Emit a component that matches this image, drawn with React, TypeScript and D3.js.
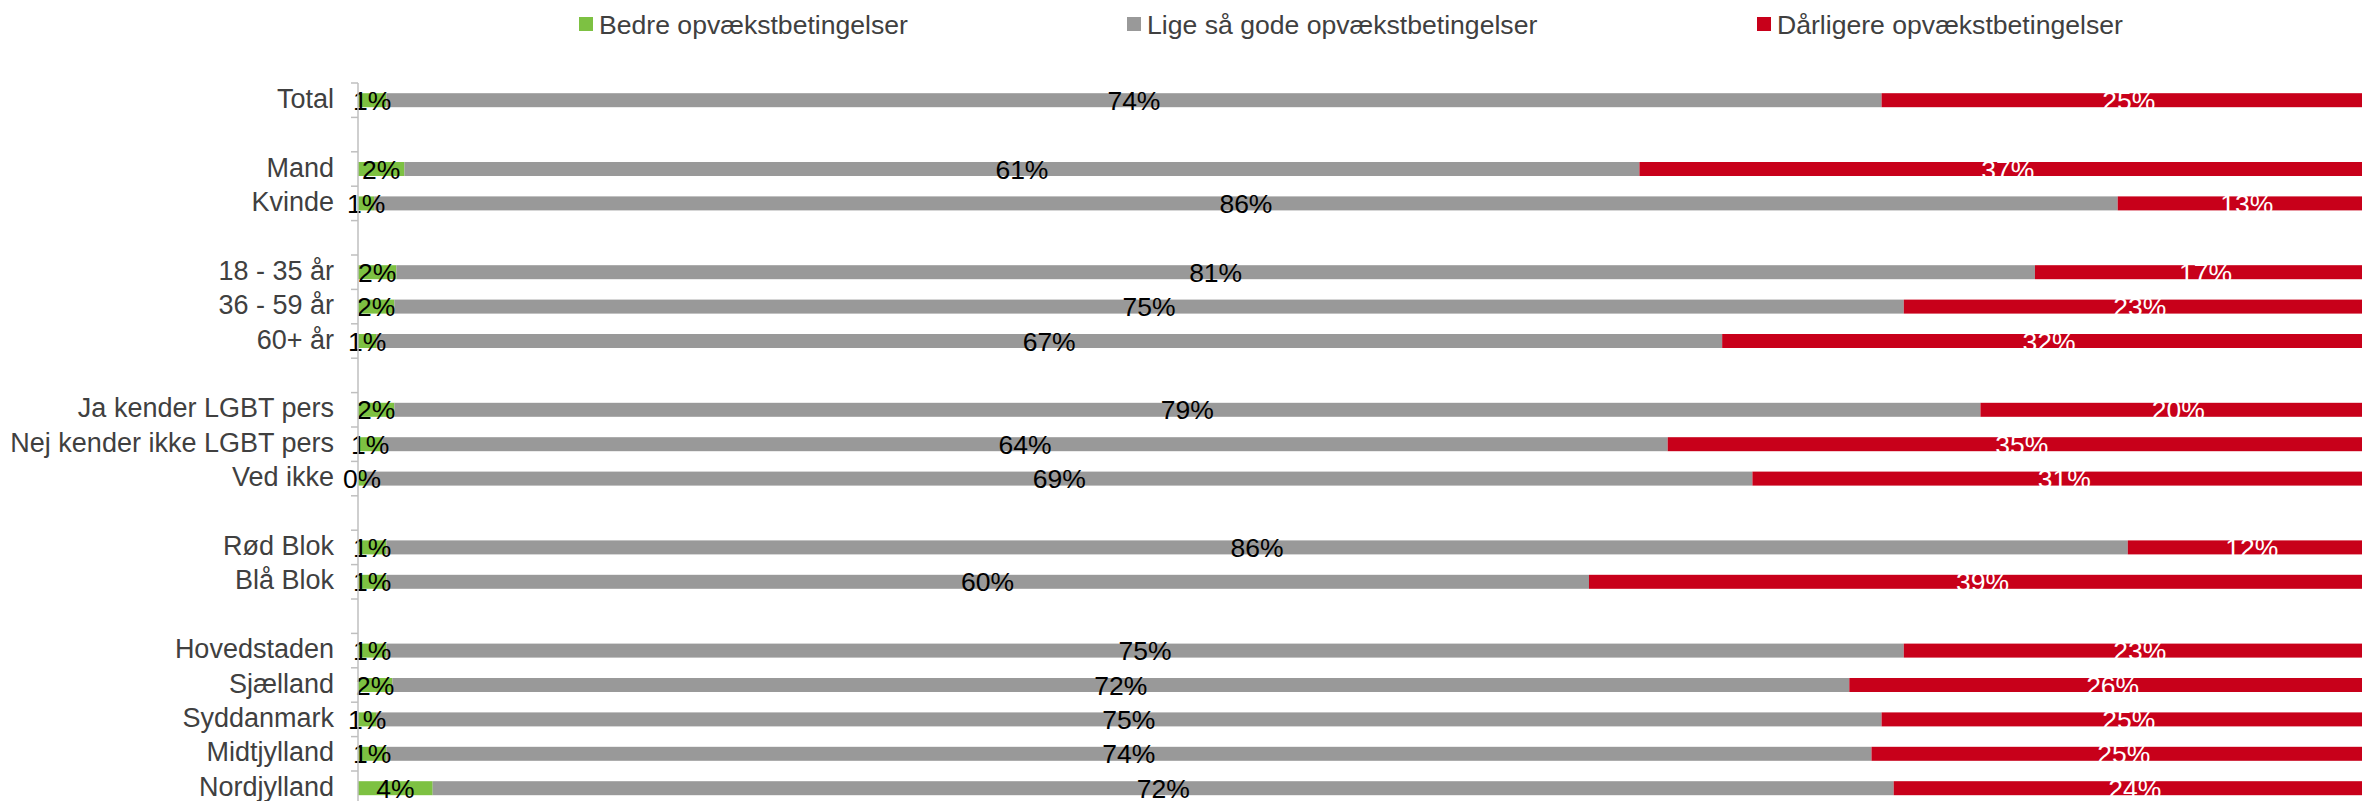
import React from "react";
import * as d3 from "d3";

const categories = [
  "Total", "", "Mand", "Kvinde", "", "18 - 35 år", "36 - 59 år", "60+ år", "",
  "Ja kender LGBT pers", "Nej kender ikke LGBT pers", "Ved ikke", "",
  "Rød Blok", "Blå Blok", "",
  "Hovedstaden", "Sjælland", "Syddanmark", "Midtjylland", "Nordjylland",
];

const bedre = [1.4, null, 2.3, 0.8, null, 1.9, 1.8, 0.9, null, 1.8, 1.2, 0.4, null, 1.4, 1.4, null, 1.4, 1.7, 0.9, 1.4, 3.7];
const ligeSaaGode = [74.1, null, 61.2, 86.4, null, 81.2, 74.8, 66.7, null, 78.6, 63.7, 68.7, null, 86.3, 59.6, null, 75.2, 72.2, 74.6, 73.6, 72.4];
const daarligere = [24.5, null, 36.5, 12.8, null, 16.9, 23.4, 32.4, null, 19.6, 35.1, 30.9, null, 12.3, 39.0, null, 23.4, 26.1, 24.5, 25.0, 23.9];

const seriesNames = ["Bedre opvækstbetingelser", "Lige så gode opvækstbetingelser", "Dårligere opvækstbetingelser"];
const seriesColors = ["#7dc142", "#999999", "#c8001a"];
const labelColors = ["#000000", "#000000", "#ffffff"];

const W = 2362;
const H = 801;
const FONT = "'Liberation Sans', Arial, sans-serif";

export default function App() {
  const x = d3.scaleLinear().domain([0, 100]).range([358, 2376]);
  const y = d3.scaleBand<number>().domain(d3.range(categories.length)).range([83, 83 + categories.length * 34.4]).paddingInner(0).paddingOuter(0);
  const bh = 14;
  const seriesData = [bedre, ligeSaaGode, daarligere];

  const legendX = [579, 1127, 1757];

  return (
    <svg width={W} height={H} style={{ position: "absolute", left: 0, top: 0, background: "#fff" }} fontFamily={FONT}>
      {/* legend */}
      {seriesNames.map((n, i) => (
        <g key={n}>
          <rect x={legendX[i]} y={17} width={14} height={14} fill={seriesColors[i]} />
          <text x={legendX[i] + 20} y={33.5} fontSize={26.6} fill="#404040">{n}</text>
        </g>
      ))}
      {/* bars */}
      {categories.map((c, r) => {
        if (bedre[r] == null) return null;
        const cy = (y(r) as number) + y.bandwidth() / 2;
        let cum = 0;
        return (
          <g key={"r" + r}>
            {seriesData.map((s, si) => {
              const v = s[r] as number;
              const x0 = x(cum);
              cum += v;
              const x1 = x(cum);
              return (
                <rect key={si} x={x0} y={cy - bh / 2} width={Math.max(0, x1 - x0)} height={bh} fill={seriesColors[si]} />
              );
            })}
          </g>
        );
      })}
      {/* labels */}
      {categories.map((c, r) => {
        if (bedre[r] == null) return null;
        const cy = (y(r) as number) + y.bandwidth() / 2;
        let cum = 0;
        return (
          <g key={"l" + r}>
            {seriesData.map((s, si) => {
              const v = s[r] as number;
              const x0 = x(cum);
              cum += v;
              const x1 = x(cum);
              return (
                <text key={si} x={(x0 + x1) / 2} y={cy + 9.5} textAnchor="middle" fontSize={26.5} fill={labelColors[si]}>
                  {Math.round(v) + "%"}
                </text>
              );
            })}
          </g>
        );
      })}
      {/* y axis */}
      <line x1={358} x2={358} y1={83} y2={83 + categories.length * 34.4} stroke="#bfbfbf" strokeWidth={1.5} />
      {d3.range(categories.length + 1).map((i) => {
        const ty = 83 + i * 34.4;
        return <line key={"t" + i} x1={351} x2={358} y1={ty} y2={ty} stroke="#bfbfbf" strokeWidth={1.5} />;
      })}
      {categories.map((c, r) =>
        c ? (
          <text key={"c" + r} x={334} y={(y(r) as number) + y.bandwidth() / 2 + 7.5} textAnchor="end" fontSize={27} fill="#404040">
            {c}
          </text>
        ) : null
      )}
    </svg>
  );
}
